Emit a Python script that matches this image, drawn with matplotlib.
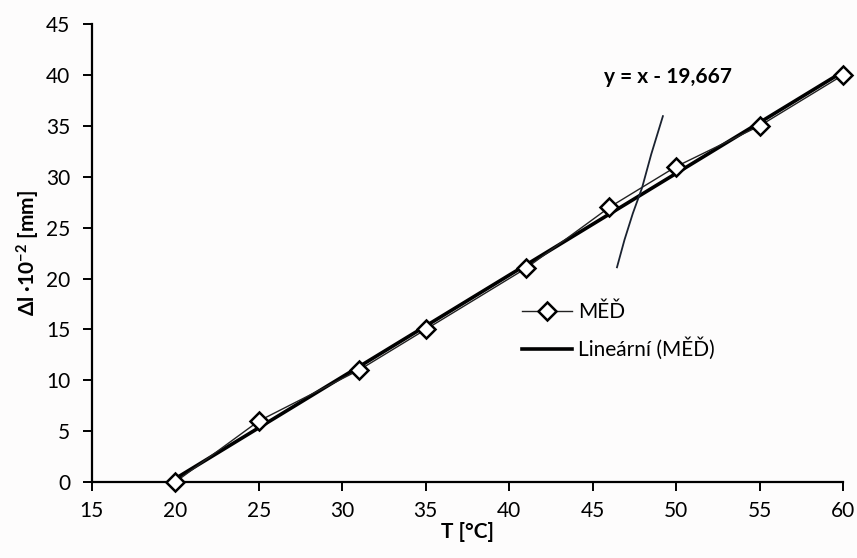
import numpy as np
import matplotlib.pyplot as plt

# data
teplota = [20, 25, 31, 35, 41, 46, 50, 55, 60]
delka = [0, 6, 11, 15, 21, 27, 31, 35, 40]
usek = -19.667  # y = x - 19,667

# hand drawn pen stroke across the trend line
tah_x = [46.45, 46.9, 47.4, 47.95, 48.5, 49.2]
tah_y = [21.1, 23.8, 26.4, 28.9, 32.2, 35.95]

plt.rcParams['font.family'] = ['Lato', 'DejaVu Sans']
plt.rcParams['mathtext.fontset'] = 'custom'
plt.rcParams['mathtext.rm'] = 'Lato:bold'
plt.rcParams['mathtext.default'] = 'regular'

fig = plt.figure(figsize=(8.57, 5.58), dpi=100)
fig.patch.set_facecolor('#fdfcfc')
ax = fig.add_axes([0.107, 0.136, 0.877, 0.821])
ax.set_facecolor('none')

# trend line
xs = np.array([min(teplota), max(teplota)])
ax.plot(xs, xs + usek, color='black', lw=2.6, label='Lineární (MĚĎ)', zorder=3)

# measured values
ax.plot(teplota, delka, color='#222222', lw=1.0, marker='D', ms=9,
        mfc='white', mec='black', mew=1.8, label='MĚĎ', zorder=4, clip_on=False)

ax.plot(tah_x, tah_y, color='#1a2230', lw=1.3, zorder=5)

ax.text(49.5, 39.8, 'y = x - 19,667', fontsize=15, fontweight='bold',
        ha='center', va='center')

ax.set_xlim(15, 60)
ax.set_ylim(0, 45)
ax.set_xticks(range(15, 61, 5))
ax.set_yticks(range(0, 46, 5))
for s in ['top', 'right']:
    ax.spines[s].set_visible(False)
for s in ['left', 'bottom']:
    ax.spines[s].set_linewidth(1.6)
ax.tick_params(labelsize=15, width=1.4, length=6.5, direction='out')
ax.tick_params(axis='y', pad=9)
ax.tick_params(axis='x', pad=7)

ax.set_xlabel('T [°C]', fontsize=15, fontweight='bold', labelpad=1)
ax.set_ylabel('Δl ·10$^{-2}$ [mm]', fontsize=15, fontweight='bold', labelpad=3)

h, l = ax.get_legend_handles_labels()
leg = ax.legend(h[::-1], l[::-1], loc='center left', bbox_to_anchor=(0.547, 0.33),
                frameon=False, fontsize=15, handlelength=2.4, handletextpad=0.3,
                labelspacing=0.75)

fig.savefig('out.png', dpi=100, facecolor=fig.get_facecolor())
